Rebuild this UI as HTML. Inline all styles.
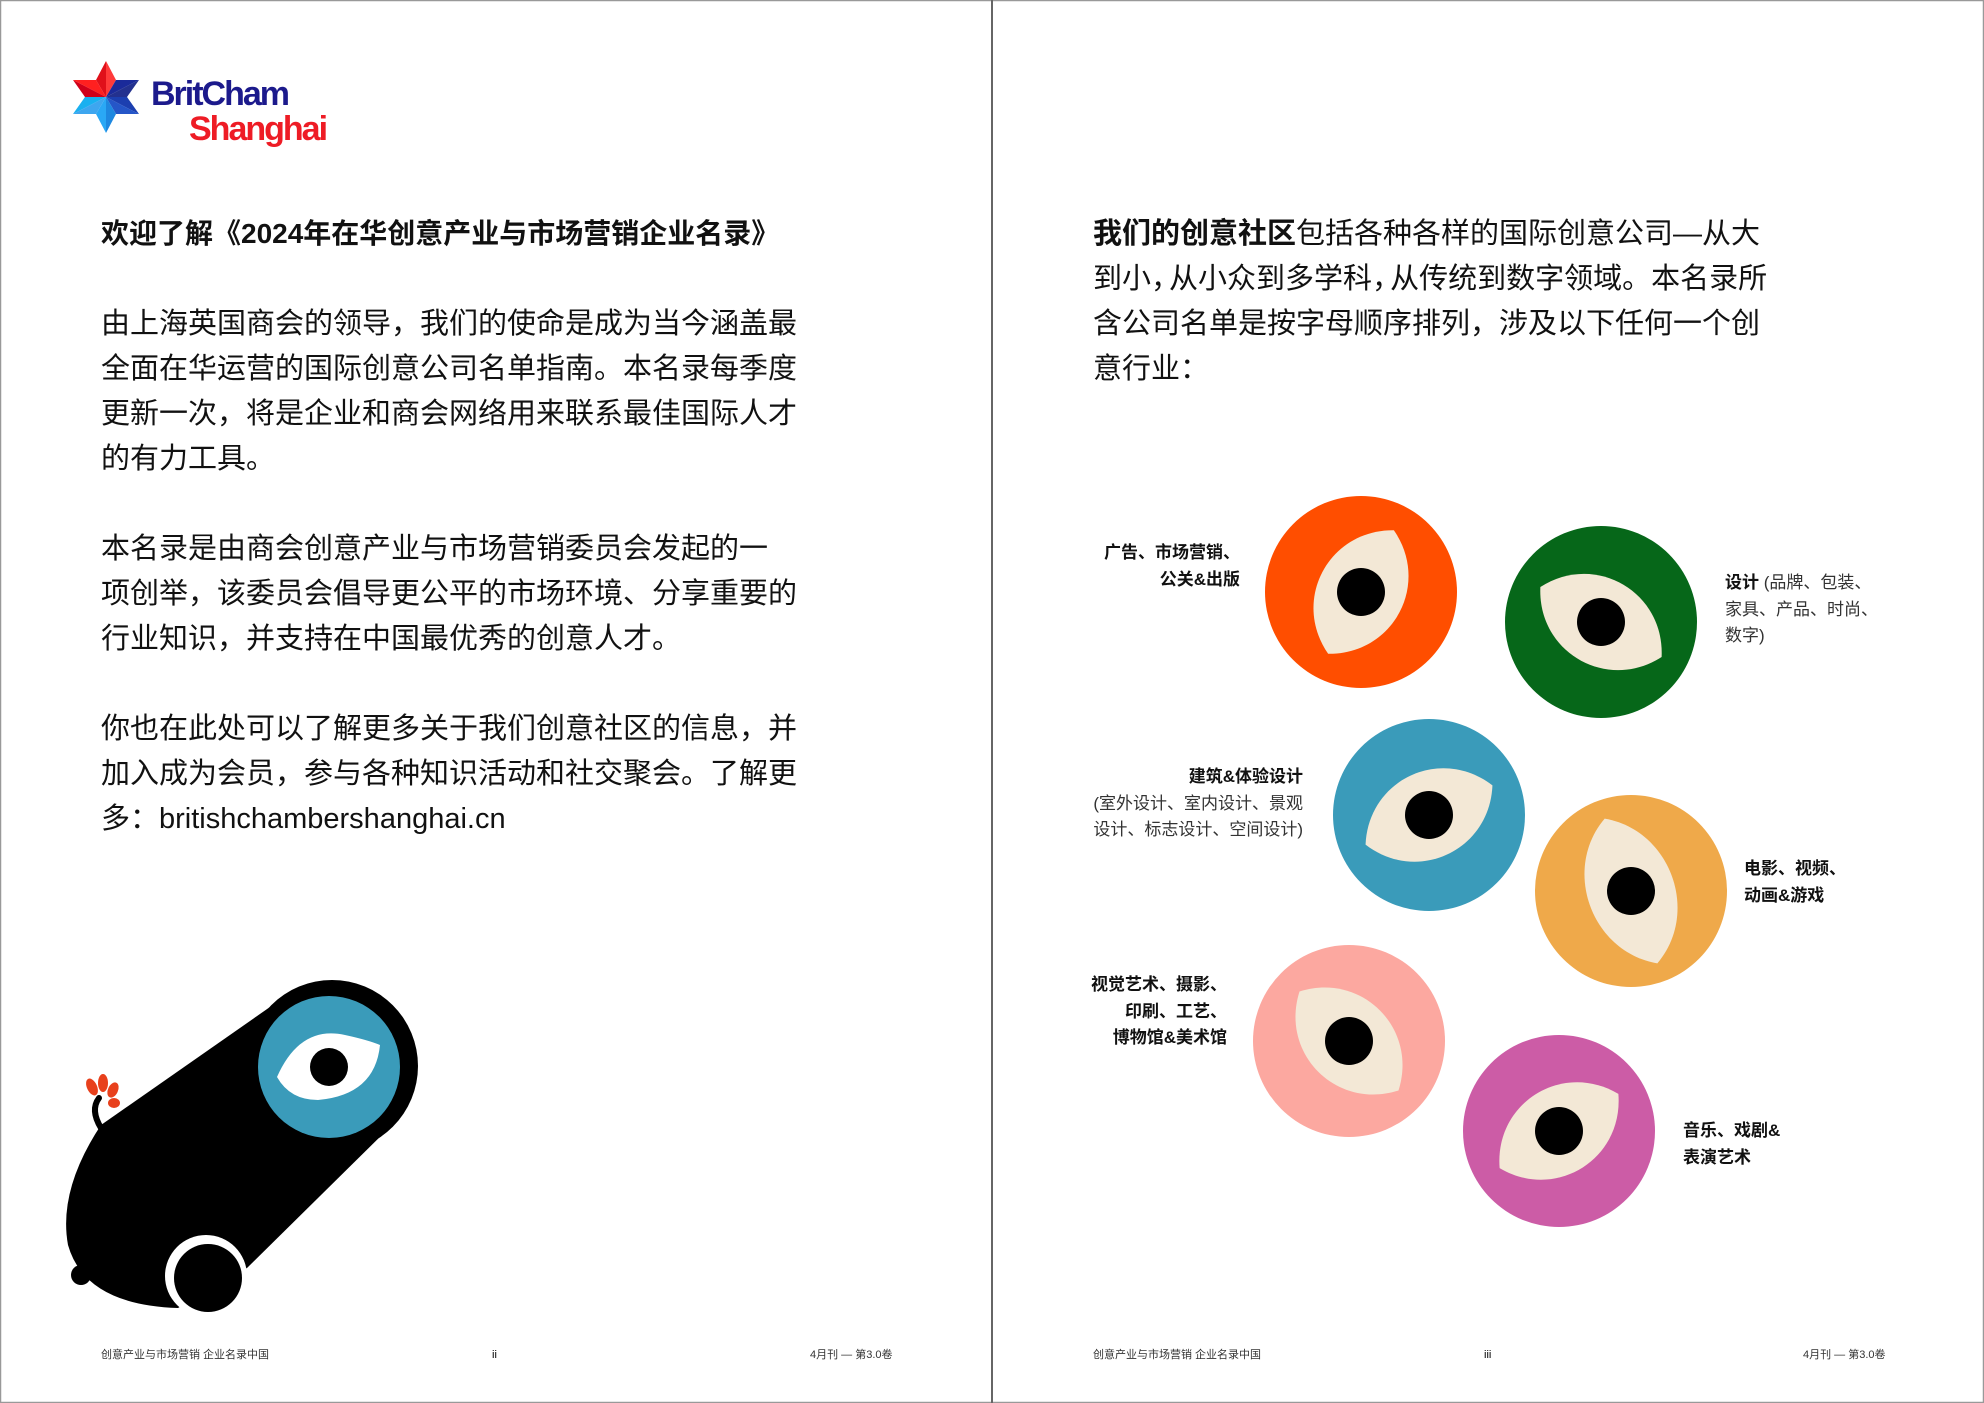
<!DOCTYPE html>
<html><head><meta charset="utf-8">
<style>
html,body{margin:0;padding:0;background:#fff;}
body{width:1984px;height:1403px;position:relative;overflow:hidden;font-family:"Liberation Sans","Noto Sans CJK SC",sans-serif;color:#111;}
.t{position:absolute;white-space:nowrap;}
.p{font-size:29px;line-height:45px;}
.lab{font-size:17px;line-height:26.5px;font-weight:bold;}
.lab span{font-weight:normal;color:#333;}
.ft{font-size:11px;color:#333;}
.c{letter-spacing:-11px;}
</style></head><body>
<svg width="1984" height="1403" style="position:absolute;left:0;top:0">
<defs><path id="al" d="M-70 0 C-40 -58 40 -58 70 0 C40 58 -40 58 -70 0Z" fill="#f3e8d6"/></defs>
<rect x="0.5" y="0.5" width="1983" height="1402" fill="none" stroke="#999" stroke-width="1.5"/>
<line x1="992" y1="0" x2="992" y2="1403" stroke="#666" stroke-width="2"/>
<g>
<polygon points="106,61 96,80 106,97" fill="#e0101a"/>
<polygon points="106,61 116,80 106,97" fill="#ff3a3a"/>
<polygon points="73,80 96,80 106,97" fill="#ff2020"/>
<polygon points="73,80 85,97 106,97" fill="#d0001a"/>
<polygon points="139,80 116,80 106,97" fill="#1a2a9a"/>
<polygon points="139,80 127,97 106,97" fill="#23318f"/>
<polygon points="139,114 127,97 106,97" fill="#1c3fb0"/>
<polygon points="139,114 116,114 106,97" fill="#2556c8"/>
<polygon points="73,114 85,97 106,97" fill="#1ab0f0"/>
<polygon points="73,114 96,114 106,97" fill="#3ea6ef"/>
<polygon points="106,133 96,114 106,97" fill="#2aa8f5"/>
<polygon points="106,133 116,114 106,97" fill="#1e88e0"/>
</g>
<g>
<path d="M280 1000 L101 1125 Q58 1190 68 1245 Q85 1305 178 1308 L247 1268 L392 1125 Z" fill="#000"/>
<circle cx="332" cy="1066" r="86" fill="#000"/>
<circle cx="329" cy="1067" r="71" fill="#3a9bba"/>
<path d="M277 1077 Q300 1025 345 1035 Q368 1040 380 1045 Q375 1095 318 1100 Q290 1100 277 1077 Z" fill="#fff"/>
<circle cx="329" cy="1067" r="19" fill="#000"/>
<circle cx="206" cy="1276" r="41" fill="#fff"/>
<circle cx="208" cy="1278" r="34" fill="#000"/>
<circle cx="81" cy="1275" r="10" fill="#000"/>
<path d="M101 1128 Q90 1110 99 1098" stroke="#000" stroke-width="6" fill="none" stroke-linecap="round"/>
<ellipse cx="92" cy="1087" rx="5" ry="9" fill="#e8401c" transform="rotate(-25 92 1087)"/>
<ellipse cx="103" cy="1083" rx="5" ry="9" fill="#e8401c"/>
<ellipse cx="113" cy="1090" rx="5" ry="8" fill="#e8401c" transform="rotate(25 113 1090)"/>
<ellipse cx="114" cy="1103" rx="6" ry="5" fill="#e8401c"/>
</g>
<g transform="translate(1361,592)"><circle r="96" fill="#ff4e00"/><use href="#al" transform="rotate(-62)"/><circle r="24" fill="#000"/></g>
<g transform="translate(1601,622)"><circle r="96" fill="#066719"/><use href="#al" transform="rotate(30)"/><circle r="24" fill="#000"/></g>
<g transform="translate(1429,815)"><circle r="96" fill="#3a9bba"/><use href="#al" transform="rotate(-25)"/><circle r="24" fill="#000"/></g>
<g transform="translate(1631,891)"><circle r="96" fill="#efa94a"/><use href="#al" transform="rotate(70) scale(1.1,1)"/><circle r="24" fill="#000"/></g>
<g transform="translate(1349,1041)"><circle r="96" fill="#fca8a0"/><use href="#al" transform="rotate(45)"/><circle r="24" fill="#000"/></g>
<g transform="translate(1559,1131)"><circle r="96" fill="#cc5ca6"/><use href="#al" transform="rotate(-32)"/><circle r="24" fill="#000"/></g>
</svg>

<div class="t" style="left:151px;top:75px;font-size:34px;font-weight:bold;color:#1c1a8c;letter-spacing:-2px;">BritCham</div>
<div class="t" style="left:189px;top:110px;font-size:34px;font-weight:bold;color:#ee1c25;letter-spacing:-2px;">Shanghai</div>

<div class="t" style="left:101px;top:216px;font-size:28px;font-weight:bold;line-height:36px;">欢迎了解《2024年在华创意产业与市场营销企业名录》</div>
<div class="t p" style="left:101px;top:302px;">由上海英国商会的领导，我们的使命是成为当今涵盖最<br>全面在华运营的国际创意公司名单指南。本名录每季度<br>更新一次，将是企业和商会网络用来联系最佳国际人才<br>的有力工具。</div>
<div class="t p" style="left:101px;top:527px;">本名录是由商会创意产业与市场营销委员会发起的一<br>项创举，该委员会倡导更公平的市场环境、分享重要的<br>行业知识，并支持在中国最优秀的创意人才。</div>
<div class="t p" style="left:101px;top:707px;">你也在此处可以了解更多关于我们创意社区的信息，并<br>加入成为会员，参与各种知识活动和社交聚会。了解更<br>多：britishchambershanghai.cn</div>

<div class="t p" style="left:1093px;top:212px;"><b>我们的创意社区</b>包括各种各样的国际创意公司—从大<br>到小<span class="c">，</span>从小众到多学科<span class="c">，</span>从传统到数字领域。本名录所<br>含公司名单是按字母顺序排列，涉及以下任何一个创<br>意行业：</div>

<div class="t lab" style="right:744px;top:540px;text-align:right;">广告、市场营销、<br>公关&amp;出版</div>
<div class="t lab" style="left:1725px;top:570px;">设计 <span>(品牌、包装、<br>家具、产品、时尚、<br>数字)</span></div>
<div class="t lab" style="right:681px;top:764px;text-align:right;">建筑&amp;体验设计<br><span>(室外设计、室内设计、景观<br>设计、标志设计、空间设计)</span></div>
<div class="t lab" style="left:1744px;top:856px;">电影、视频、<br>动画&amp;游戏</div>
<div class="t lab" style="right:757px;top:972px;text-align:right;">视觉艺术、摄影、<br>印刷、工艺、<br>博物馆&amp;美术馆</div>
<div class="t lab" style="left:1683px;top:1118px;">音乐、戏剧&amp;<br>表演艺术</div>

<div class="t ft" style="left:101px;top:1346px;">创意产业与市场营销 企业名录中国</div>
<div class="t ft" style="left:492px;top:1349px;color:#000;">ii</div>
<div class="t ft" style="left:810px;top:1346px;">4月刊 — 第3.0卷</div>
<div class="t ft" style="left:1093px;top:1346px;">创意产业与市场营销 企业名录中国</div>
<div class="t ft" style="left:1484px;top:1349px;color:#000;">iii</div>
<div class="t ft" style="left:1803px;top:1346px;">4月刊 — 第3.0卷</div>
</body></html>
